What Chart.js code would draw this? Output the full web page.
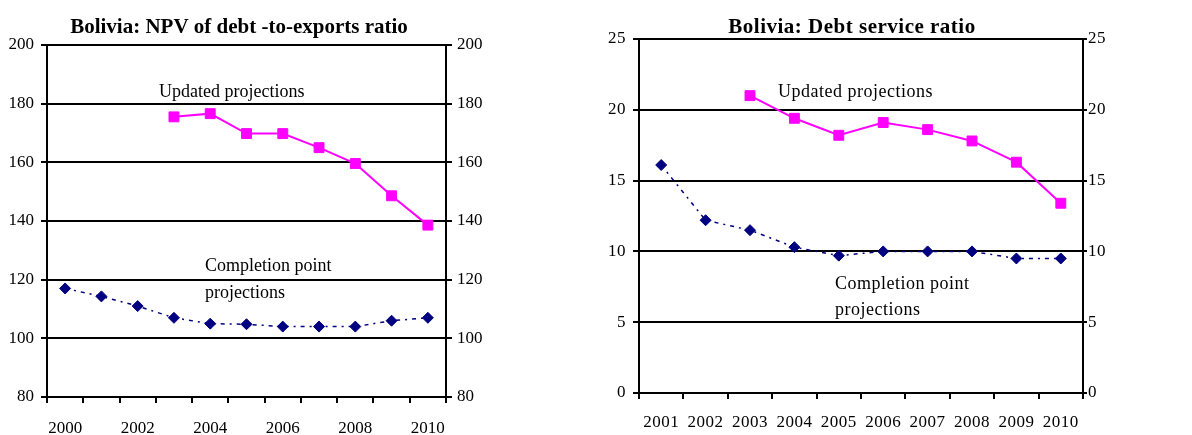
<!DOCTYPE html>
<html>
<head>
<meta charset="utf-8">
<script src="https://cdn.jsdelivr.net/npm/chart.js@4"></script>
<style>
  html, body { margin: 0; padding: 0; background: #fff; }
  body { width: 1192px; height: 435px; position: relative; overflow: hidden; }
  .panel { position: absolute; top: 0; height: 435px; }
  #leftPanel { left: 0; width: 500px; }
  #rightPanel { left: 590px; width: 602px; }
</style>
</head>
<body>
<div class="panel" id="leftPanel"><canvas id="npvChart"></canvas></div>
<div class="panel" id="rightPanel"><canvas id="dsChart"></canvas></div>
<script>
// NPV of debt-to-exports ratio (percent)
const npvYears = ['2000','2001','2002','2003','2004','2005','2006','2007','2008','2009','2010'];
const npvCompletion = [117, 114.3, 111, 107, 105, 104.8, 104, 104, 104, 106, 107];
const npvUpdated = [null, null, null, 175.5, 176.6, 169.8, 169.8, 165, 159.6, 148.6, 138.6];
const npvTicks = [80, 100, 120, 140, 160, 180, 200];

// Debt service ratio (percent)
const dsYears = ['2001','2002','2003','2004','2005','2006','2007','2008','2009','2010'];
const dsCompletion = [16.1, 12.2, 11.5, 10.3, 9.7, 10.0, 10.0, 10.0, 9.5, 9.5];
const dsUpdated = [null, null, 21.0, 19.4, 18.2, 19.1, 18.6, 17.8, 16.3, 13.4];
const dsTicks = [0, 5, 10, 15, 20, 25];

const NAVY = '#000080';
const MAGENTA = '#FF00FF';
const SERIF = '"Liberation Serif", "Times New Roman", serif';

// Title and in-plot captions, drawn as text on the canvas
function textPlugin(cfg) {
  return {
    id: 'captions',
    beforeDraw(chart) {
      chart.ctx.letterSpacing = cfg.spacing + 'px';
    },
    afterDraw(chart) {
      const ctx = chart.ctx;
      ctx.save();
      ctx.letterSpacing = cfg.spacing + 'px';
      ctx.fillStyle = '#000';
      ctx.textBaseline = 'alphabetic';
      ctx.font = 'bold 21px ' + SERIF;
      ctx.textAlign = 'center';
      ctx.fillText(cfg.title, cfg.titleX, cfg.titleY);
      ctx.textAlign = 'left';
      ctx.font = '18px ' + SERIF;
      cfg.notes.forEach(n => ctx.fillText(n.text, n.x, n.y));
      ctx.restore();
    }
  };
}

function makeChart(id, opts) {
  const tickFont = { family: SERIF, size: 17 };
  const sideAxis = (position, width, tickLen, pad) => ({
    type: 'linear',
    position: position,
    min: opts.ticks[0],
    max: opts.ticks[opts.ticks.length - 1],
    afterBuildTicks(scale) { scale.ticks = opts.ticks.map(v => ({ value: v })); },
    afterFit(scale) { scale.width = width; },
    border: { display: true, color: '#000', width: 2 },
    grid: {
      color: '#000', lineWidth: 2, tickLength: tickLen,
      drawOnChartArea: position === 'left', drawTicks: true
    },
    ticks: { color: '#000', font: tickFont, padding: pad }
  });

  return new Chart(document.getElementById(id), {
    type: 'line',
    data: {
      labels: opts.labels,
      datasets: [
        {
          label: 'Updated projections',
          data: opts.updated,
          borderColor: MAGENTA,
          backgroundColor: MAGENTA,
          borderWidth: 2,
          pointStyle: 'rect',
          pointRadius: 7,
          pointBorderWidth: 1,
          spanGaps: false,
          yAxisID: 'y'
        },
        {
          label: 'Completion point projections',
          data: opts.completion,
          borderColor: NAVY,
          backgroundColor: NAVY,
          borderWidth: 1.5,
          borderDash: [4, 5, 2, 5],
          pointStyle: 'rectRot',
          pointRadius: 5.5,
          pointBorderWidth: 1,
          yAxisID: 'y'
        }
      ]
    },
    options: {
      responsive: true,
      maintainAspectRatio: false,
      animation: false,
      layout: { padding: { top: opts.top, left: 0, right: 0, bottom: 0 } },
      plugins: { legend: { display: false }, title: { display: false }, tooltip: { enabled: false } },
      scales: {
        x: {
          type: 'category',
          offset: true,
          afterFit(scale) { scale.height = opts.xHeight; },
          border: { display: true, color: '#000', width: 2 },
          grid: { offset: true, drawOnChartArea: false, drawTicks: true, tickLength: 6, color: '#000', lineWidth: 2 },
          ticks: {
            color: '#000', font: tickFont, padding: opts.xPad,
            autoSkip: false, maxRotation: 0,
            callback(v, i) { return opts.labelEvery && i % opts.labelEvery ? '' : this.getLabelForValue(v); }
          }
        },
        y: sideAxis('left', opts.leftW, 6, 7),
        y2: sideAxis('right', opts.rightW, opts.rightTick, opts.rightPad)
      }
    },
    plugins: [textPlugin(opts.text)]
  });
}

makeChart('npvChart', {
  labels: npvYears, completion: npvCompletion, updated: npvUpdated, ticks: npvTicks,
  top: 45, xHeight: 38, xPad: 15, leftW: 47, rightW: 54, labelEvery: 2,
  rightTick: 6, rightPad: 5,
  text: {
    spacing: 0,
    title: 'Bolivia: NPV of debt -to-exports ratio', titleX: 239, titleY: 33,
    notes: [
      { text: 'Updated projections', x: 159, y: 97 },
      { text: 'Completion point', x: 205, y: 271 },
      { text: 'projections', x: 205, y: 298 }
    ]
  }
});

makeChart('dsChart', {
  labels: dsYears, completion: dsCompletion, updated: dsUpdated, ticks: dsTicks,
  top: 39, xHeight: 42, xPad: 13, leftW: 49, rightW: 109, labelEvery: 0,
  rightTick: 4, rightPad: 1,
  text: {
    spacing: 0.5,
    title: 'Bolivia: Debt service ratio', titleX: 262, titleY: 33,
    notes: [
      { text: 'Updated projections', x: 188, y: 97 },
      { text: 'Completion point', x: 245, y: 289 },
      { text: 'projections', x: 245, y: 315 }
    ]
  }
});
</script>
</body>
</html>
